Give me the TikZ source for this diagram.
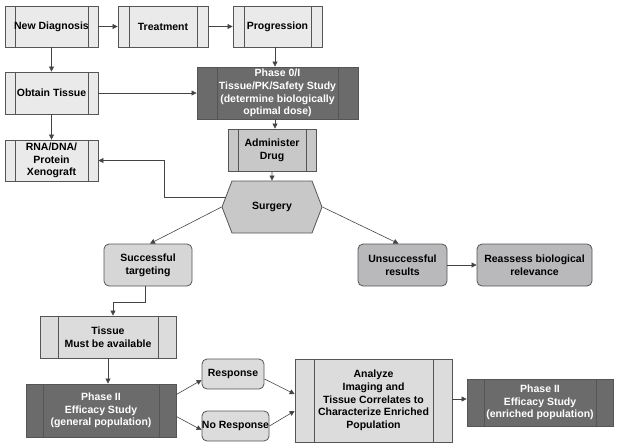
\documentclass[tikz,border=0pt]{standalone}
\usepackage{fontspec}
\setmainfont{Liberation Sans}
\usepackage{tikz}
\usetikzlibrary{arrows.meta,shapes.symbols}
\usepackage{xcolor}
\definecolor{edge}{HTML}{555555}
\definecolor{wire}{HTML}{444444}
\definecolor{light}{HTML}{EAEAEA}
\definecolor{pale}{HTML}{DCDCDC}
\definecolor{mid}{HTML}{C8C8C8}
\definecolor{soft}{HTML}{D6D6D6}
\definecolor{muted}{HTML}{B9B9BC}
\definecolor{dark}{HTML}{6B6B6B}
\newcommand{\boxfont}{\fontsize{10.5}{12.7}\selectfont\bfseries}
\tikzset{box/.style={black,draw=edge,line width=0.8pt,fill=#1,rectangle,inner sep=0pt,align=center,font=\boxfont}}
\tikzset{rbox/.style={box=#1,rounded corners=5pt}}
\tikzset{bars/.style={path picture={
  \draw[edge,line width=0.8pt] ([xshift=#1]path picture bounding box.north west) -- ([xshift=#1]path picture bounding box.south west);
  \draw[edge,line width=0.8pt] ([xshift=-#1]path picture bounding box.north east) -- ([xshift=-#1]path picture bounding box.south east);}}}
\tikzset{hexa/.style={box=mid,shape=signal,signal to=east and west,signal pointer angle=138}}
\tikzset{link/.style={wire,line width=0.6pt,-{Triangle[length=5pt,width=5pt]}}}

\begin{document}
\begin{tikzpicture}[x=1pt,y=-1pt]
    \useasboundingbox (0,0) rectangle (618,445);

    \node[box=light,bars=10pt,minimum width=93pt,minimum height=41pt] (diag) at (51.5,26.5) {New Diagnosis};
    \node[box=light,bars=11pt,minimum width=90pt,minimum height=41pt] (treat) at (163,26.5) {Treatment};
    \node[box=light,bars=11pt,minimum width=89pt,minimum height=41pt] (prog) at (277.5,26.5) {Progression};

    \node[box=light,bars=10pt,minimum width=93pt,minimum height=42pt] (tissue) at (51.5,93) {Obtain Tissue};
    \node[box=dark,text=white,bars=20pt,minimum width=161pt,minimum height=52pt] (phase0) at (277.5,93) {Phase 0/I\\Tissue/PK/Safety Study\\(determine biologically\\optimal dose)};
    \node[box=mid,bars=10pt,minimum width=88pt,minimum height=42pt] (drug) at (272,150) {Administer\\Drug};
    \node[box=light,bars=10pt,minimum width=93pt,minimum height=41pt] (xeno) at (51.5,160.5) {RNA/DNA/\\Protein\\Xenograft};

    \node[hexa,minimum width=100pt,minimum height=52pt] (surg) at (272,207) {Surgery};

    \node[rbox=soft,minimum width=88pt,minimum height=42pt] (succ) at (148,265) {Successful\\targeting};
    \node[rbox=muted,minimum width=89pt,minimum height=42pt] (unsucc) at (402.5,265) {Unsuccessful\\results};
    \node[rbox=muted,minimum width=115pt,minimum height=42pt] (reassess) at (534.5,265) {Reassess biological\\relevance};

    \node[box=pale,bars=18pt,minimum width=136pt,minimum height=42pt] (avail) at (108,337) {Tissue\\Must be available};
    \node[box=dark,text=white,bars=17pt,minimum width=150pt,minimum height=53pt] (ph2a) at (101,410.5) {Phase II\\Efficacy Study\\(general population)};
    \node[rbox=pale,minimum width=62pt,minimum height=30pt] (resp) at (233,374) {Response};
    \node[rbox=pale,minimum width=67pt,minimum height=30pt] (noresp) at (235.5,426) {No Response};
    \node[box=pale,bars=19pt,minimum width=157pt,minimum height=83pt] (analyze) at (373.5,400.5) {Analyze\\Imaging and\\Tissue Correlates to\\Characterize Enriched\\Population};
    \node[box=dark,text=white,bars=17pt,minimum width=146pt,minimum height=47pt] (ph2b) at (540,402.5) {Phase II\\Efficacy Study\\(enriched population)};

    \draw[link] (diag) -- (treat);
    \draw[link] (treat) -- (prog);
    \draw[link] ([xshift=-2.5pt]prog.south) -- ([xshift=-2.5pt]prog.south |- phase0.north);

    \draw[link] (diag) -- (tissue);
    \draw[link] (tissue) -- (tissue -| phase0.west);
    \draw[link] (tissue) -- (xeno);

    \draw[link] ([xshift=-2.5pt]phase0.south) -- ([xshift=-2.5pt]phase0.south |- drug.north);
    \draw[link] (drug) -- (surg);
    \draw[link] ([xshift=4pt,yshift=10pt]surg.west) -- ++(-61,0) |- (xeno.east);

    \draw[link] (surg.west) -- ([xshift=2pt]succ.north);
    \draw[link] (surg.east) -- ([xshift=-4pt]unsucc.north);
    \draw[link] (unsucc) -- (reassess);

    \draw[link] ([xshift=-3pt]succ.south) -- ++(0,16) -| ([xshift=5pt]avail.north);
    \draw[link] (avail.south) -- (avail.south |- ph2a.north);

    \draw[link] ([yshift=16pt]ph2a.east) -- ([yshift=-6pt]resp.west);
    \draw[link] ([yshift=-6pt]ph2a.east) -- ([yshift=-4pt]noresp.west);
    \draw[link] ([yshift=-5pt]resp.east) -- ([yshift=6.5pt]analyze.west);
    \draw[link] (noresp.east) -- ([yshift=-10.5pt]analyze.west);
    \draw[link] ([yshift=1.5pt]analyze.east) -- ([yshift=1.5pt]analyze.east -| ph2b.west);
\end{tikzpicture}
\end{document}
